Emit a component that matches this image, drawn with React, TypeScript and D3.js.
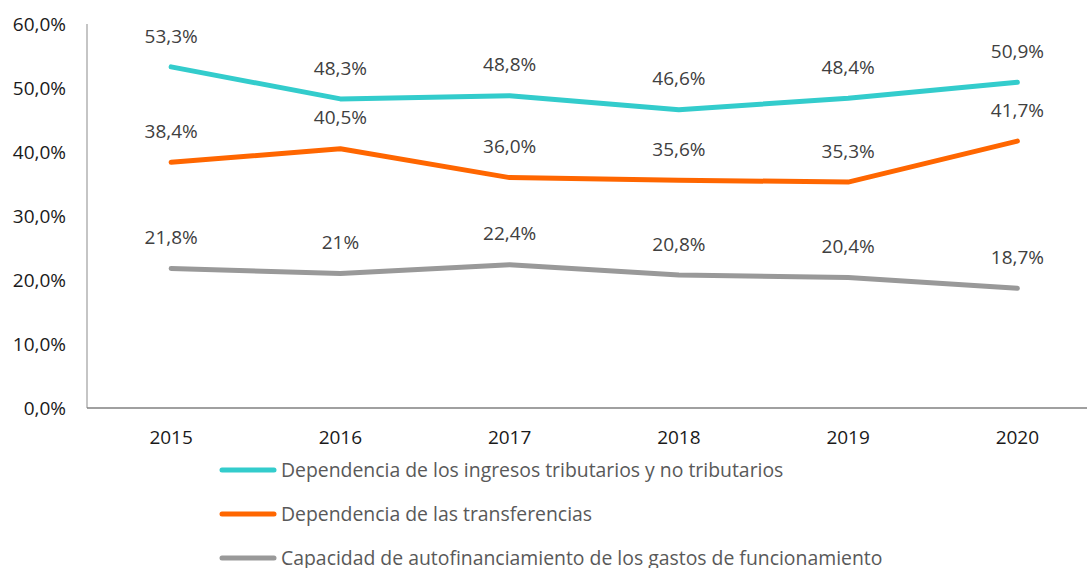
import React from "react";
import * as d3 from "d3";

const years = ["2015", "2016", "2017", "2018", "2019", "2020"];
const ingresos = [53.3, 48.3, 48.8, 46.6, 48.4, 50.9];
const transferencias = [38.4, 40.5, 36.0, 35.6, 35.3, 41.7];
const autofinanciamiento = [21.8, 21.0, 22.4, 20.8, 20.4, 18.7];
const ingresosLabels = ["53,3%", "48,3%", "48,8%", "46,6%", "48,4%", "50,9%"];
const transferenciasLabels = ["38,4%", "40,5%", "36,0%", "35,6%", "35,3%", "41,7%"];
const autofinanciamientoLabels = ["21,8%", "21%", "22,4%", "20,8%", "20,4%", "18,7%"];
const seriesNames = [
  "Dependencia de los ingresos tributarios y no tributarios",
  "Dependencia de las transferencias",
  "Capacidad de autofinanciamiento de los gastos de funcionamiento",
];
const yTicks = [0, 10, 20, 30, 40, 50, 60];
const yTickLabels = ["0,0%", "10,0%", "20,0%", "30,0%", "40,0%", "50,0%", "60,0%"];

const colors = ["#33CCCC", "#FF6600", "#999999"];
const FONT = "'Open Sans', sans-serif";

export default function App() {
  const W = 1087;
  const H = 568;
  const x = d3.scaleBand<string>().domain(years).range([86.5, 1102]);
  const y = d3.scaleLinear().domain([0, 60]).range([408, 24]);
  const line = d3
    .line<number>()
    .x((_, i) => (x(years[i]) as number) + x.bandwidth() / 2)
    .y((d) => y(d));

  const series = [
    { values: ingresos, labels: ingresosLabels },
    { values: transferencias, labels: transferenciasLabels },
    { values: autofinanciamiento, labels: autofinanciamientoLabels },
  ];

  return (
    <svg
      width={W}
      height={H}
      style={{ position: "absolute", left: 0, top: 0, background: "#fff" }}
      fontFamily={FONT}
    >
      <line x1={87} x2={87} y1={24} y2={408} stroke="#A6A6A6" strokeWidth={1.3} />
      <line x1={87} x2={1087} y1={408} y2={408} stroke="#808080" strokeWidth={1.3} />
      {yTicks.map((t, i) => (
        <text
          key={t}
          x={66}
          y={y(t)}
          dy="0.35em"
          textAnchor="end"
          fontSize={19}
          fill="#1a1a1a"
        >
          {yTickLabels[i]}
        </text>
      ))}
      {years.map((yr) => (
        <text
          key={yr}
          x={(x(yr) as number) + x.bandwidth() / 2}
          y={437}
          dy="0.35em"
          textAnchor="middle"
          fontSize={19}
          fill="#1a1a1a"
        >
          {yr}
        </text>
      ))}
      {series.map((s, si) => (
        <g key={si}>
          <path
            d={line(s.values) || ""}
            fill="none"
            stroke={colors[si]}
            strokeWidth={5}
            strokeLinecap="round"
            strokeLinejoin="round"
          />
          {s.values.map((v, i) => (
            <text
              key={i}
              x={(x(years[i]) as number) + x.bandwidth() / 2}
              y={y(v) - 31}
              dy="0.35em"
              textAnchor="middle"
              fontSize={19}
              fill="#404040"
            >
              {s.labels[i]}
            </text>
          ))}
        </g>
      ))}
      {seriesNames.map((n, i) => {
        const ly = 470 + i * 44;
        return (
          <g key={n}>
            <line
              x1={222}
              x2={274}
              y1={ly}
              y2={ly}
              stroke={colors[i]}
              strokeWidth={5}
              strokeLinecap="round"
            />
            <text x={281} y={ly} dy="0.35em" fontSize={19.4} fill="#595959">
              {n}
            </text>
          </g>
        );
      })}
    </svg>
  );
}
